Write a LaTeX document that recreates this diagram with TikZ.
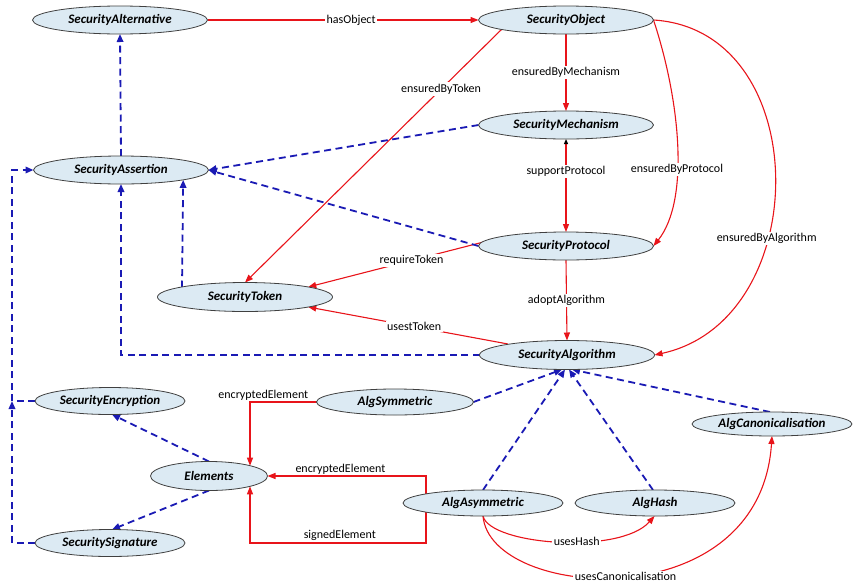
\documentclass[tikz,border=0pt]{standalone}
\usepackage{fontspec}
\setmainfont{Carlito}
\usetikzlibrary{shapes.geometric,arrows.meta,calc}
\definecolor{nodefill}{HTML}{DCEAF3}
\definecolor{relred}{HTML}{E8141A}
\definecolor{depblue}{HTML}{1A1AB4}
\pgfdeclarelayer{bg}\pgfsetlayers{bg,main}
\begin{document}
\begin{tikzpicture}[x=1pt,y=1pt,
 cls/.style={ellipse, draw=black!75, line width=0.8pt, fill=nodefill, minimum width=175pt, minimum height=28pt, inner sep=0pt, outer sep=0pt, font=\fontsize{13}{15}\selectfont\bfseries\itshape},
 rel/.style={draw=relred, line width=1.1pt, -{Triangle[length=8pt,width=6pt]}},
 dep/.style={draw=depblue, line width=1.8pt, dash pattern=on 7pt off 4.5pt, -{Triangle[length=8pt,width=6.5pt]}},
 lbl/.style={fill=white, inner sep=1.5pt, font=\fontsize{12}{14}\selectfont}
]
\useasboundingbox (0,0) rectangle (854,-587);
% nodes
\node[cls] (SA) at (120,-20) {SecurityAlternative};
\node[cls] (SO) at (566,-20) {SecurityObject};
\node[cls] (SM) at (566,-125) {SecurityMechanism};
\node[cls] (SAss) at (121,-170) {SecurityAssertion};
\node[cls] (SP) at (566,-246) {SecurityProtocol};
\node[cls, minimum height=29pt] (ST) at (245,-297) {SecurityToken};
\node[cls, minimum height=29pt] (SAlg) at (567,-355) {SecurityAlgorithm};
\node[cls, minimum width=150pt, minimum height=27pt] (SEnc) at (110,-401) {SecurityEncryption};
\node[cls, minimum width=157pt, minimum height=26pt] (ASym) at (395,-402) {AlgSymmetric};
\node[cls, minimum width=117pt, minimum height=29pt] (Elem) at (209,-476) {Elements};
\node[cls, minimum width=160pt, minimum height=26pt] (AAsym) at (483,-503) {AlgAsymmetric};
\node[cls, minimum width=160pt, minimum height=26pt] (AHash) at (655,-503) {AlgHash};
\node[cls, minimum width=160pt, minimum height=24pt] (ACan) at (772,-424) {AlgCanonicalisation};
\node[cls, minimum width=150pt, minimum height=27pt] (SSig) at (110,-543) {SecuritySignature};
\coordinate (busTop) at (12,-170);
\coordinate (busEnc) at (12,-401);
\begin{pgfonlayer}{bg}
% red relations
\draw[rel] (SA.east) -- node[lbl,pos=0.53]{hasObject} (SO.west);
\draw[rel] (SO.south) -- node[lbl]{ensuredByMechanism} (SM.north);
\draw[rel] ($(SO)+(-63,-8)$) -- node[lbl,pos=0.24]{ensuredByToken} (ST.north);
\draw[rel] (SO.east) .. controls (680,-100) and (690,-200) .. node[lbl,pos=0.6]{ensuredByProtocol} (SP.east);
\draw[rel] (SO.east) .. controls (815,-30) and (815,-320) .. node[lbl,pos=0.63]{ensuredByAlgorithm} (SAlg.east);
\draw[rel, {Triangle[black,length=5pt,width=4pt]}-{Triangle[length=8pt,width=6pt]}] (SM.south) -- node[lbl,pos=0.35]{supportProtocol} (SP.north);
\draw[rel] (SP.south) -- node[lbl]{adoptAlgorithm} (SAlg.north);
\draw[rel] ($(SP)+(-63,9)$) -- node[lbl,pos=0.47]{requireToken} (ST.9);
\draw[rel] ($(SAlg)+(-59,11)$) -- node[lbl,pos=0.47]{usestToken} (ST.-9);
\draw[rel] (ASym.west) -| node[lbl,pos=0.4,above=0pt,fill=none]{encryptedElement} ($(Elem)+(41,10.3)$);
\draw[rel] ($(AAsym)+(-57,0)$) |- node[lbl,pos=0.77,above=0pt,fill=none]{encryptedElement} (Elem.east);
\draw[rel] ($(AAsym)+(-57,0)$) |- node[lbl,pos=0.745,above=0pt,fill=none]{signedElement} ($(Elem)+(41,-67)$) -- ($(Elem)+(41,-10.3)$);
\draw[rel] (AAsym.south) .. controls (490,-545) and (620,-555) .. node[lbl,pos=0.58]{usesHash} (AHash.-92);
\draw[rel] (AAsym.south) .. controls (490,-600) and (760,-620) .. node[lbl,pos=0.5]{usesCanonicalisation} (ACan.south);
% blue dependencies
\draw[dep] (SAss.north) -- (SA.south);
\draw[dep] (SM.west) -- (SAss.east);
\draw[dep] (SP.west) -- (SAss.east);
\draw[dep] ($(ST)+(-63,9.5)$) -- (SAss.-9.3);
\draw[dep] (SAlg.west) -| (SAss.south);
\draw[dep] (SSig.west) -| (busEnc);
\draw[dep] (SEnc.west) -- (busEnc) -- (busTop) -- (SAss.west);
\draw[dep] (Elem.north) -- ([xshift=2pt]SEnc.south);
\draw[dep] (Elem.south) -- ([xshift=2pt]SSig.north);
\draw[dep] (ASym.east) -- ([xshift=-5pt]SAlg.south);
\draw[dep] (AAsym.north) -- ([xshift=-2pt]SAlg.south);
\draw[dep] ([xshift=-2pt]AHash.north) -- ([xshift=2pt]SAlg.south);
\draw[dep] ([xshift=-2pt]ACan.north) -- ([xshift=5pt]SAlg.south);
\end{pgfonlayer}
\end{tikzpicture}
\end{document}
